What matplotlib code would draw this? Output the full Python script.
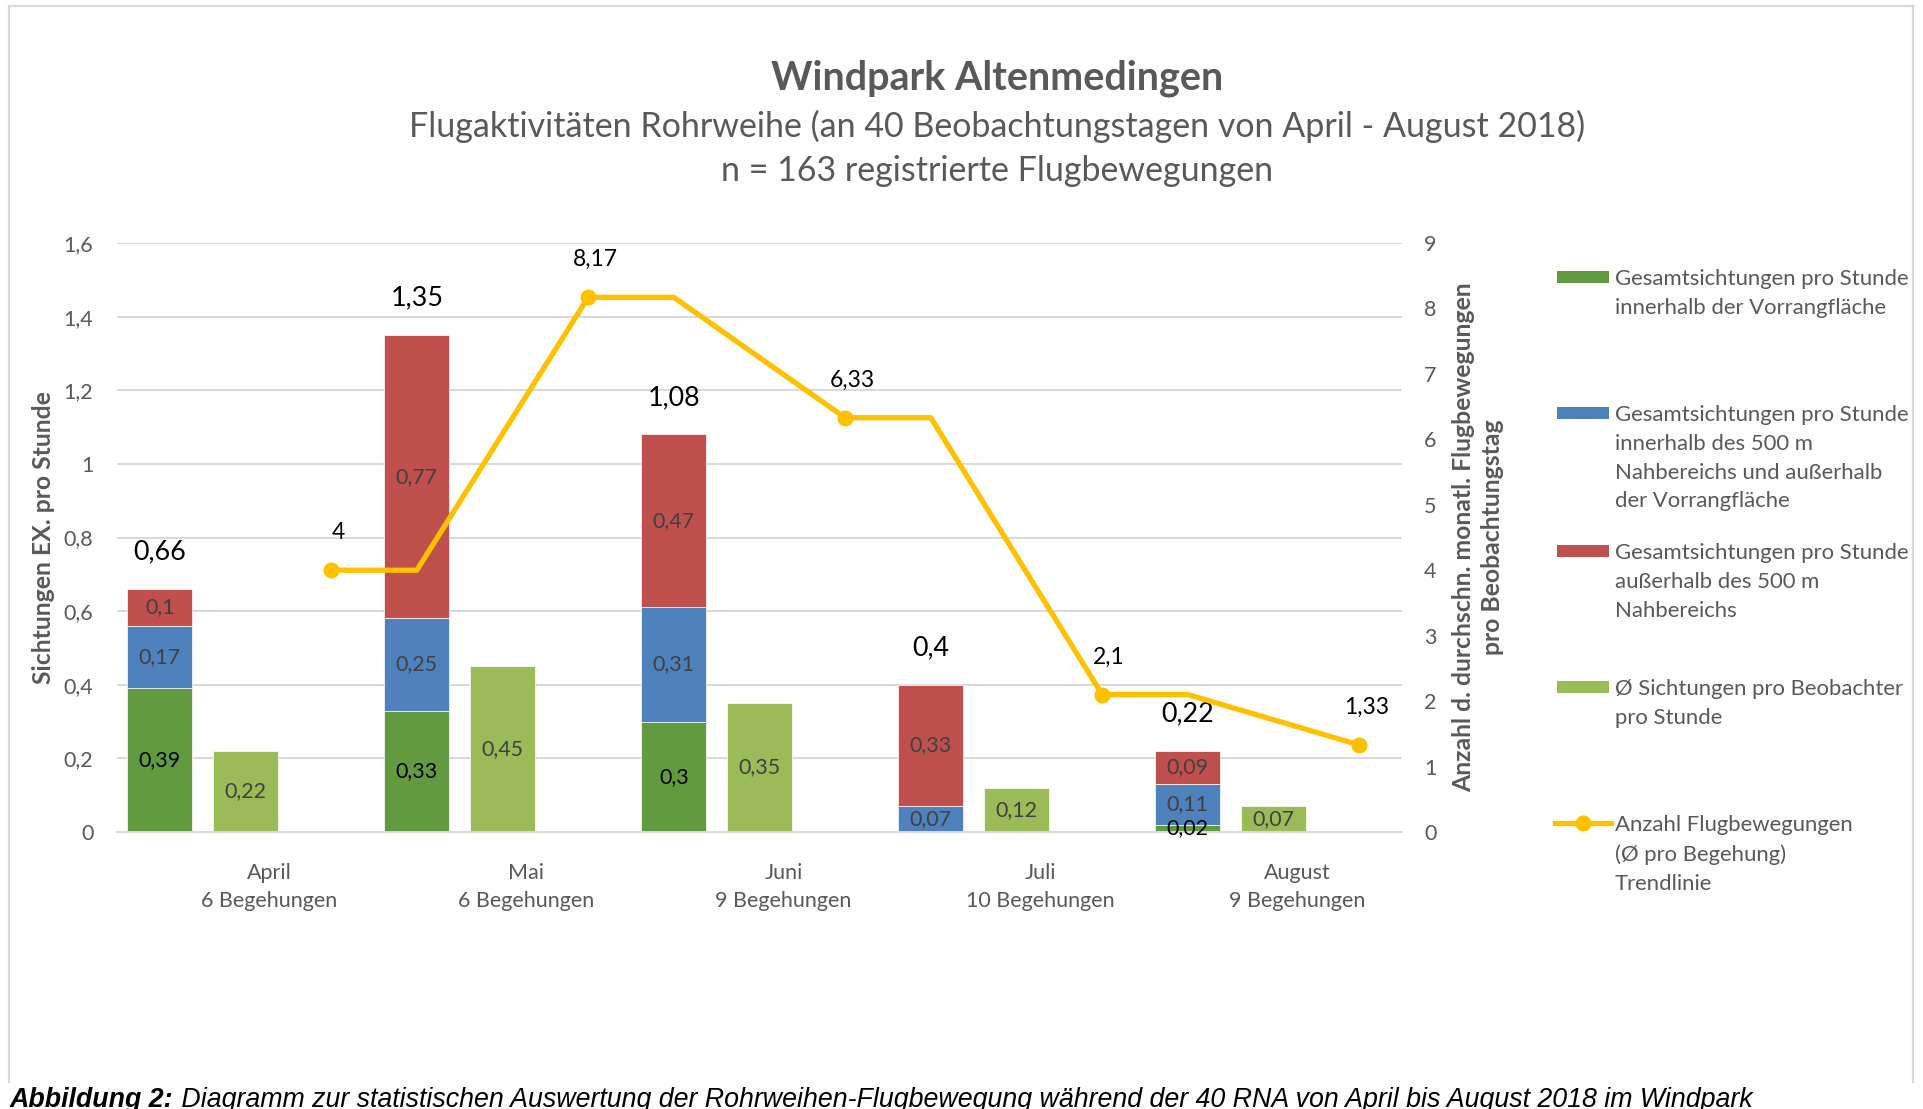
import matplotlib
matplotlib.use("Agg")
import matplotlib.pyplot as plt
from matplotlib.lines import Line2D
from matplotlib.patches import Rectangle
import numpy as np

# ---------------- data ----------------
months = ["April", "Mai", "Juni", "Juli", "August"]
begehungen = ["6 Begehungen", "6 Begehungen", "9 Begehungen", "10 Begehungen", "9 Begehungen"]
innerhalb_vorrang = [0.39, 0.33, 0.30, 0.0, 0.02]
nahbereich_500m = [0.17, 0.25, 0.31, 0.07, 0.11]
ausserhalb_500m = [0.10, 0.77, 0.47, 0.33, 0.09]
gesamt = [0.66, 1.35, 1.08, 0.40, 0.22]
pro_beobachter = [0.22, 0.45, 0.35, 0.12, 0.07]
flugbewegungen = [4, 8.17, 6.33, 2.1, 1.33]
left_ticks = [0, 0.2, 0.4, 0.6, 0.8, 1.0, 1.2, 1.4, 1.6]
right_ticks = [0, 1, 2, 3, 4, 5, 6, 7, 8, 9]

legend_labels = [
    "Gesamtsichtungen pro Stunde\ninnerhalb der Vorrangfläche",
    "Gesamtsichtungen pro Stunde\ninnerhalb des 500 m\nNahbereichs und außerhalb\nder Vorrangfläche",
    "Gesamtsichtungen pro Stunde\naußerhalb des 500 m\nNahbereichs",
    "Ø Sichtungen pro Beobachter\npro Stunde",
    "Anzahl Flugbewegungen\n(Ø pro Begehung)\nTrendlinie",
]

# ---------------- style ----------------
GREEN = "#629b3f"
BLUE = "#4f81bd"
RED = "#c0504d"
LGREEN = "#9bbb59"
YELLOW = "#ffc000"
GRID = "#d9d9d9"
GRAY = "#595959"
DARK = "#404040"
FONT = "Lato"

W, H = 1923, 1109
fig = plt.figure(figsize=(W / 100, H / 100), dpi=100)
fig.patch.set_facecolor("white")
renderer = fig.canvas.get_renderer()


def fit_size(s, target_px, base=20, **kw):
    t = fig.text(0, 0, s, fontsize=base, **kw)
    w = t.get_window_extent(renderer=renderer).width
    t.remove()
    return base * target_px / w


def fx(px):
    return px / W


def fy(py):
    return 1 - py / H


def fmt(v):
    return f"{round(v, 2):g}".replace(".", ",")


TITLE_FS = fit_size("Windpark Altenmedingen", 453, family=FONT, weight="bold")
SUB_FS = fit_size("Flugaktivitäten Rohrweihe (an 40 Beobachtungstagen von April - August 2018)", 1180, family=FONT)
LEG_FS = fit_size("Gesamtsichtungen pro Stunde", 294, family=FONT)
MONTH_FS = fit_size("6 Begehungen", 137, family=FONT)
YLAB_FS = fit_size("Anzahl d. durchschn. monatl. Flugbewegungen", 511, family=FONT, weight="bold")
TOTAL_FS = fit_size("1,35", 53, family=FONT)
INNER_FS = fit_size("0,39", 42, family=FONT)
LINE_FS = fit_size("8,17", 45, family=FONT)
CAP_FS = fit_size("Abbildung 2: Diagramm zur statistischen Auswertung der Rohrweihen-Flugbewegung während der 40 RNA von April bis August 2018 im Windpark",
                  1725, family="Liberation Sans", style="italic")

# ---------------- axes ----------------
x0, x1, ytop, ybot = 117, 1402, 243, 832
ax = fig.add_axes([fx(x0), fy(ybot), fx(x1 - x0), (ybot - ytop) / H])
ax2 = ax.twinx()

n = len(months)
x_stack = np.arange(n) * 3
x_light = x_stack + 1
bw = 0.76

inn = np.array(innerhalb_vorrang)
nah = np.array(nahbereich_500m)
aus = np.array(ausserhalb_500m)

ax.bar(x_stack, inn, width=bw, color=GREEN, edgecolor="white", linewidth=0.5, zorder=2)
ax.bar(x_stack, nah, width=bw, bottom=inn, color=BLUE, edgecolor="white", linewidth=0.5, zorder=2)
ax.bar(x_stack, aus, width=bw, bottom=inn + nah, color=RED, edgecolor="white", linewidth=0.5, zorder=2)
ax.bar(x_light, pro_beobachter, width=bw, color=LGREEN, edgecolor="white", linewidth=0.5, zorder=2)

for i in range(n):
    segs = [(inn[i], 0, "black"), (nah[i], inn[i], DARK), (aus[i], inn[i] + nah[i], DARK)]
    for v, b, c in segs:
        if v > 0:
            ax.text(x_stack[i], b + v / 2, fmt(v), ha="center", va="center",
                    fontsize=INNER_FS, color=c, family=FONT, zorder=5)
    ax.text(x_light[i], pro_beobachter[i] / 2, fmt(pro_beobachter[i]), ha="center", va="center",
            fontsize=INNER_FS, color=DARK, family=FONT, zorder=5)
    ax.annotate(fmt(gesamt[i]), (x_stack[i], gesamt[i]), xytext=(0, 26.5), textcoords="offset points",
                ha="center", va="center", fontsize=TOTAL_FS, color="black", family=FONT)

ax.set_xlim(-0.5, 3 * n - 0.5)
ax.set_ylim(0, 1.6)
ax.set_yticks(left_ticks)
ax.set_yticklabels([fmt(t) for t in left_ticks])
ax.yaxis.grid(True, color=GRID, linewidth=1.4)
ax.set_axisbelow(True)
for s in ["top", "left", "right"]:
    ax.spines[s].set_visible(False)
ax.spines["bottom"].set_color(GRID)
ax.spines["bottom"].set_linewidth(1.4)
ax.tick_params(axis="y", length=0, pad=17, labelcolor=GRAY, labelsize=MONTH_FS)
ax.set_xticks(x_stack + 1.28)
ax.set_xticklabels([f"{m}\n{b}" for m, b in zip(months, begehungen)], linespacing=1.55)
ax.tick_params(axis="x", length=0, pad=22, labelcolor=GRAY, labelsize=MONTH_FS)
for lab in ax.get_xticklabels() + ax.get_yticklabels():
    lab.set_family(FONT)

ax.set_ylabel("Sichtungen EX. pro Stunde", fontsize=YLAB_FS, fontweight="bold", color=GRAY, family=FONT)
ax.yaxis.set_label_coords((55 - x0) / (x1 - x0), 0.5)

# secondary axis: trend line
line_x, line_y = [], []
for i, v in enumerate(flugbewegungen):
    line_x.append(3 * i + 2)
    line_y.append(v)
    if i < n - 1:
        line_x.append(3 * i + 3)
        line_y.append(v)
mark_x = [3 * i + 2 for i in range(n)]
ax2.plot(line_x, line_y, color=YELLOW, linewidth=3.8, zorder=3, solid_capstyle="butt")
ax2.plot(mark_x, flugbewegungen, "o", color=YELLOW, markersize=10.5, zorder=4)
for xm, v in zip(mark_x, flugbewegungen):
    ax2.annotate(fmt(v), (xm, v), xytext=(5, 27), textcoords="offset points",
                 ha="center", va="center", fontsize=LINE_FS, color="black", family=FONT)
ax2.set_ylim(0, 9)
ax2.set_yticks(right_ticks)
ax2.set_yticklabels([fmt(t) for t in right_ticks])
ax2.tick_params(axis="y", length=0, pad=16, labelcolor=GRAY, labelsize=MONTH_FS)
for lab in ax2.get_yticklabels():
    lab.set_family(FONT)
for s in ax2.spines.values():
    s.set_visible(False)
ax2.set_ylabel("Anzahl d. durchschn. monatl. Flugbewegungen\npro Beobachtungstag", fontsize=YLAB_FS,
               fontweight="bold", color=GRAY, family=FONT, rotation=90, multialignment="center",
               linespacing=1.3)
ax2.yaxis.set_label_coords((1452 - x0) / (x1 - x0), 0.5)
ax2.set_xlim(-0.5, 3 * n - 0.5)

# ---------------- titles ----------------
fig.text(fx(997), fy(78), "Windpark Altenmedingen", ha="center", va="center",
         fontsize=TITLE_FS, fontweight="bold", color=GRAY, family=FONT)
fig.text(fx(997), fy(126), "Flugaktivitäten Rohrweihe (an 40 Beobachtungstagen von April - August 2018)",
         ha="center", va="center", fontsize=SUB_FS, color=GRAY, family=FONT)
fig.text(fx(997), fy(171), "n = 163 registrierte Flugbewegungen",
         ha="center", va="center", fontsize=SUB_FS, color=GRAY, family=FONT)

# ---------------- legend (manual) ----------------
leg_y = [277, 413, 551, 687, 823]
colors = [GREEN, BLUE, RED, LGREEN]
for i, lab in enumerate(legend_labels):
    y = leg_y[i]
    if i < 4:
        fig.patches.append(Rectangle((fx(1557), fy(y + 6)), fx(52), 12 / H, transform=fig.transFigure,
                                     facecolor=colors[i], edgecolor="none"))
    else:
        fig.add_artist(Line2D([fx(1555), fx(1611)], [fy(y), fy(y)], transform=fig.transFigure,
                              color=YELLOW, linewidth=3.8))
        fig.add_artist(Line2D([fx(1583)], [fy(y)], transform=fig.transFigure, marker="o",
                              color=YELLOW, markersize=10.5))
    fig.text(fx(1615), fy(y - 8), lab, ha="left", va="top", fontsize=LEG_FS, color=GRAY,
             family=FONT, linespacing=1.55)

# ---------------- frame ----------------
for xs, ys in [([9, 1913], [6, 6]), ([9, 9], [6, 1082]), ([1913, 1913], [6, 1082])]:
    fig.add_artist(Line2D([fx(v) for v in xs], [fy(v) for v in ys], transform=fig.transFigure,
                          color=GRID, linewidth=1.6))

# ---------------- caption ----------------
t1 = fig.text(fx(10), fy(1107), "Abbildung 2:", ha="left", va="baseline", fontsize=CAP_FS,
              fontweight="bold", style="italic", family="Liberation Sans", color="black")
w1 = t1.get_window_extent(renderer=renderer).width
fig.text(fx(10 + w1), fy(1107), " Diagramm zur statistischen Auswertung der Rohrweihen-Flugbewegung während der 40 RNA von April bis August 2018 im Windpark",
         ha="left", va="baseline", fontsize=CAP_FS, style="italic", family="Liberation Sans", color="black")

fig.savefig("out.png", dpi=100, facecolor="white")
